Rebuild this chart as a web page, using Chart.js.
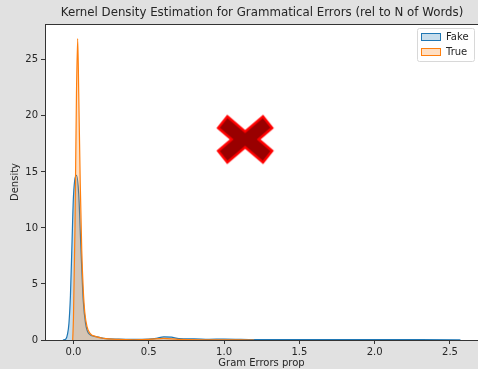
<!DOCTYPE html>
<html>
<head>
<meta charset="utf-8">
<script src="https://cdn.jsdelivr.net/npm/chart.js@4/dist/chart.umd.min.js"></script>
<style>
    html, body { margin: 0; padding: 0; background: #e1e1e1; overflow: hidden; }
    #wrap { width: 478px; height: 369px; position: relative; }
</style>
</head>
<body>
<div id="wrap"><canvas id="kdeChart" width="478" height="369"></canvas></div>
<script>
// Values
const chartTitle = 'Kernel Density Estimation for Grammatical Errors (rel to N of Words)';
const xTitle = 'Gram Errors prop';
const yTitle = 'Density';
const xTicks = [0, 0.5, 1, 1.5, 2, 2.5];
const yTicks = [0, 5, 10, 15, 20, 25];
const seriesLabels = ['Fake', 'True'];

const fakeX = [-0.07, -0.05, -0.04, -0.03, -0.02, -0.01, 0.0, 0.02, 0.035, 0.05, 0.065, 0.08, 0.1, 0.15, 0.2, 0.3, 0.4, 0.5, 0.55, 0.6, 0.65, 0.7, 0.8, 0.9, 1.0, 1.2, 1.5, 2.0, 2.3, 2.55, 2.57];
const fakeDensity = [0, 0.1, 0.5, 1.5, 4, 8.5, 12.8, 14.7, 13, 8, 3.5, 1.5, 0.6, 0.3, 0.15, 0.08, 0.06, 0.08, 0.15, 0.28, 0.25, 0.12, 0.1, 0.06, 0.08, 0.04, 0.03, 0.03, 0.03, 0.02, 0];

const trueX = [-0.005, 0.0, 0.01, 0.02, 0.028, 0.035, 0.045, 0.055, 0.065, 0.075, 0.09, 0.11, 0.15, 0.2, 0.3, 0.4, 0.5, 0.6, 0.7, 0.9, 1.2];
const trueDensity = [0, 2, 10, 22, 26.9, 22, 14, 8, 4.5, 2.5, 1.2, 0.6, 0.3, 0.15, 0.05, 0.02, 0.05, 0.15, 0.05, 0.02, 0];

const markerX = [1.14];
const markerY = [17.9];

const seriesColors = ['#1f77b4', '#ff7f0e'];
const seriesFills = ['rgba(31,119,180,0.25)', 'rgba(255,127,14,0.25)'];

// Build the big filled "X" marker image
function makeCrossImage(halfW, halfH) {
    const c = document.createElement('canvas');
    c.width = halfW * 2 + 6;
    c.height = halfH * 2 + 6;
    const g = c.getContext('2d');
    const a = 0.66, b = 0.5;
    const pts = [
        [-a, -1], [0, -(1 - a)], [a, -1], [1, -b], [1 - b, 0], [1, b],
        [a, 1], [0, 1 - a], [-a, 1], [-1, b], [-(1 - b), 0], [-1, -b]
    ];
    g.translate(c.width / 2, c.height / 2);
    g.beginPath();
    pts.forEach((p, i) => {
        const px = p[0] * halfW, py = p[1] * halfH;
        if (i === 0) g.moveTo(px, py); else g.lineTo(px, py);
    });
    g.closePath();
    g.fillStyle = '#990000';
    g.fill();
    g.lineWidth = 2.5;
    g.lineJoin = 'miter';
    g.strokeStyle = '#ff0000';
    g.stroke();
    return c;
}

const toPoints = (xs, ys) => xs.map((x, i) => ({ x: x, y: ys[i] }));

// Background, white plot area, top spine, title, legend
const decorPlugin = {
    id: 'decor',
    beforeDraw(chart) {
        const { ctx, chartArea } = chart;
        ctx.save();
        ctx.fillStyle = '#e1e1e1';
        ctx.fillRect(0, 0, chart.width, chart.height);
        ctx.fillStyle = '#ffffff';
        ctx.fillRect(chartArea.left, chartArea.top, chartArea.right - chartArea.left, chartArea.bottom - chartArea.top);
        ctx.restore();
    },
    afterDraw(chart) {
        const { ctx, chartArea } = chart;
        ctx.save();
        // top spine
        ctx.strokeStyle = '#333333';
        ctx.lineWidth = 1;
        ctx.beginPath();
        ctx.moveTo(chartArea.left, chartArea.top + 0.5);
        ctx.lineTo(chartArea.right, chartArea.top + 0.5);
        ctx.stroke();

        // title
        ctx.fillStyle = '#262626';
        ctx.font = '11.8px "DejaVu Sans"';
        ctx.textAlign = 'center';
        ctx.textBaseline = 'middle';
        ctx.fillText(chartTitle, 262, 13);

        // legend
        const lx = 417, ly = 28, lw = 57, lh = 33;
        ctx.fillStyle = 'rgba(255,255,255,0.8)';
        ctx.strokeStyle = '#d8d8d8';
        ctx.beginPath();
        ctx.roundRect(lx + 0.5, ly + 0.5, lw, lh, 2);
        ctx.fill();
        ctx.stroke();
        ctx.font = '10px "DejaVu Sans"';
        ctx.textAlign = 'left';
        seriesLabels.forEach((label, i) => {
            const y = ly + 9 + i * 15;
            ctx.fillStyle = seriesFills[i];
            ctx.fillRect(lx + 4.5, y - 3.5, 19, 7);
            ctx.strokeStyle = seriesColors[i];
            ctx.strokeRect(lx + 4.5, y - 3.5, 19, 7);
            ctx.fillStyle = '#262626';
            ctx.fillText(label, lx + 29, y);
        });
        ctx.restore();
    }
};

const ctx = document.getElementById('kdeChart').getContext('2d');

new Chart(ctx, {
    type: 'line',
    data: {
        datasets: [{
            type: 'scatter',
            label: 'marker',
            data: toPoints(markerX, markerY),
            pointStyle: makeCrossImage(27, 23),
            order: 0
        }, {
            label: seriesLabels[1],
            data: toPoints(trueX, trueDensity),
            borderColor: seriesColors[1],
            backgroundColor: seriesFills[1],
            borderWidth: 1.2,
            fill: 'origin',
            pointRadius: 0,
            cubicInterpolationMode: 'monotone',
            order: 1
        }, {
            label: seriesLabels[0],
            data: toPoints(fakeX, fakeDensity),
            borderColor: seriesColors[0],
            backgroundColor: seriesFills[0],
            borderWidth: 1.2,
            fill: 'origin',
            pointRadius: 0,
            cubicInterpolationMode: 'monotone',
            order: 2
        }]
    },
    options: {
        responsive: false,
        animation: false,
        events: [],
        layout: {
            autoPadding: false,
            padding: { top: 24, left: 0, right: 0, bottom: 0 }
        },
        scales: {
            x: {
                type: 'linear',
                min: -0.189,
                max: 2.686,
                afterBuildTicks: scale => { scale.ticks = xTicks.map(v => ({ value: v })); },
                afterFit: scale => {
                    scale.height = 29;
                    scale.paddingLeft = 0;
                    scale.paddingRight = 0;
                },
                grid: { drawOnChartArea: false, tickLength: 4, color: '#333333' },
                border: { color: '#333333', width: 1 },
                ticks: {
                    color: '#262626',
                    font: { family: 'DejaVu Sans', size: 10 },
                    padding: 2,
                    maxRotation: 0,
                    callback: v => v.toFixed(1)
                },
                title: {
                    display: true,
                    text: xTitle,
                    color: '#262626',
                    font: { family: 'DejaVu Sans', size: 10 },
                    padding: { top: 0, bottom: 0 }
                }
            },
            y: {
                type: 'linear',
                min: 0,
                max: 28.2,
                afterBuildTicks: scale => { scale.ticks = yTicks.map(v => ({ value: v })); },
                afterFit: scale => {
                    scale.width = 45;
                    scale.paddingTop = 0;
                    scale.paddingBottom = 0;
                },
                grid: { drawOnChartArea: false, tickLength: 4, color: '#333333' },
                border: { color: '#333333', width: 1 },
                ticks: {
                    color: '#262626',
                    font: { family: 'DejaVu Sans', size: 10 },
                    padding: 3
                },
                title: {
                    display: true,
                    text: yTitle,
                    color: '#262626',
                    font: { family: 'DejaVu Sans', size: 10 },
                    padding: { top: 9, bottom: 0 }
                }
            }
        },
        plugins: {
            legend: { display: false },
            title: { display: false },
            tooltip: { enabled: false }
        }
    },
    plugins: [decorPlugin]
});
</script>
</body>
</html>
